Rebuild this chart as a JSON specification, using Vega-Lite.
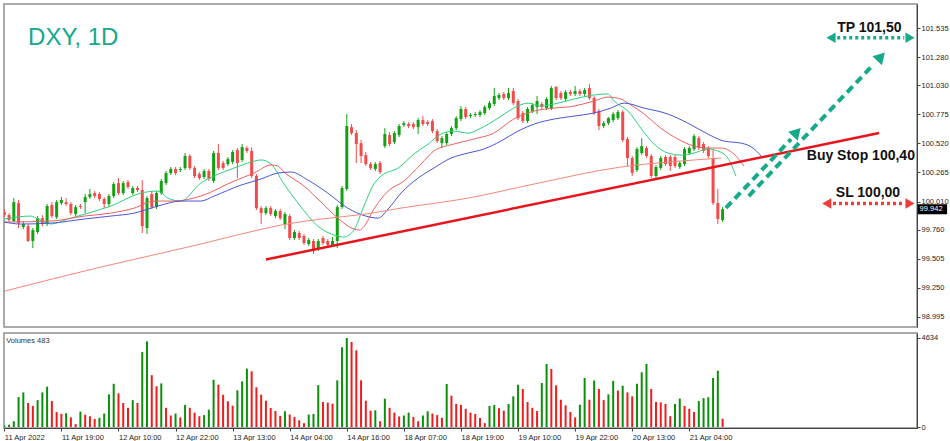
{
"$schema": "https://vega.github.io/schema/vega-lite/v6.json",
"background": "white",
"padding": {"left": 1, "top": 3, "right": 0, "bottom": 0},
"spacing": 4,
"config": {
 "view": {"stroke": "#8e8e8e", "strokeWidth": 1.5},
 "font": "Liberation Sans",
 "axis": {"labelFont": "Liberation Sans", "labelFontSize": 7.5, "labelColor": "#1e1e1e", "tickColor": "#444", "domainColor": "#444", "tickSize": 3, "grid": false, "labelPadding": 1}
},
"datasets": {
 "candles": [
{"i":0,"o":99.917,"h":99.944,"l":99.873,"c":99.891,"v":80,"vd":"u"},
{"i":1,"o":99.891,"h":99.908,"l":99.829,"c":99.847,"v":120,"vd":"u"},
{"i":2,"o":99.838,"h":100.040,"l":99.829,"c":100.005,"v":300,"vd":"u"},
{"i":3,"o":99.996,"h":100.023,"l":99.777,"c":99.820,"v":1560,"vd":"u"},
{"i":4,"o":99.785,"h":99.838,"l":99.768,"c":99.812,"v":1800,"vd":"u"},
{"i":5,"o":99.794,"h":99.812,"l":99.654,"c":99.663,"v":1250,"vd":"d"},
{"i":6,"o":99.663,"h":99.777,"l":99.601,"c":99.759,"v":1100,"vd":"d"},
{"i":7,"o":99.742,"h":99.882,"l":99.724,"c":99.864,"v":1400,"vd":"u"},
{"i":8,"o":99.864,"h":99.891,"l":99.794,"c":99.812,"v":1800,"vd":"u"},
{"i":9,"o":99.812,"h":99.988,"l":99.794,"c":99.970,"v":2100,"vd":"u"},
{"i":10,"o":99.979,"h":100.005,"l":99.864,"c":99.882,"v":1350,"vd":"d"},
{"i":11,"o":99.873,"h":100.023,"l":99.856,"c":100.005,"v":780,"vd":"d"},
{"i":12,"o":99.996,"h":100.049,"l":99.979,"c":100.023,"v":690,"vd":"d"},
{"i":13,"o":100.005,"h":100.040,"l":99.970,"c":99.988,"v":720,"vd":"u"},
{"i":14,"o":99.988,"h":100.005,"l":99.891,"c":99.908,"v":500,"vd":"d"},
{"i":15,"o":99.900,"h":99.979,"l":99.882,"c":99.961,"v":150,"vd":"d"},
{"i":16,"o":99.970,"h":99.988,"l":99.944,"c":99.961,"v":800,"vd":"u"},
{"i":17,"o":100.005,"h":100.076,"l":99.908,"c":100.049,"v":640,"vd":"d"},
{"i":18,"o":100.049,"h":100.120,"l":100.032,"c":100.076,"v":560,"vd":"d"},
{"i":19,"o":100.084,"h":100.102,"l":100.040,"c":100.058,"v":420,"vd":"d"},
{"i":20,"o":100.076,"h":100.093,"l":100.014,"c":100.032,"v":480,"vd":"u"},
{"i":21,"o":100.032,"h":100.049,"l":99.952,"c":99.988,"v":700,"vd":"u"},
{"i":22,"o":99.988,"h":100.076,"l":99.970,"c":100.058,"v":1700,"vd":"u"},
{"i":23,"o":100.058,"h":100.181,"l":100.040,"c":100.164,"v":2250,"vd":"u"},
{"i":24,"o":100.172,"h":100.216,"l":100.067,"c":100.084,"v":1750,"vd":"d"},
{"i":25,"o":100.084,"h":100.190,"l":100.067,"c":100.172,"v":1250,"vd":"d"},
{"i":26,"o":100.181,"h":100.199,"l":100.120,"c":100.137,"v":1000,"vd":"d"},
{"i":27,"o":100.084,"h":100.146,"l":100.067,"c":100.128,"v":1400,"vd":"u"},
{"i":28,"o":100.128,"h":100.146,"l":100.093,"c":100.111,"v":1250,"vd":"d"},
{"i":29,"o":100.111,"h":100.199,"l":99.733,"c":99.794,"v":3900,"vd":"u"},
{"i":30,"o":99.777,"h":100.058,"l":99.724,"c":100.040,"v":4460,"vd":"u"},
{"i":31,"o":100.076,"h":100.102,"l":99.944,"c":99.961,"v":2700,"vd":"d"},
{"i":32,"o":99.961,"h":100.102,"l":99.944,"c":100.084,"v":2120,"vd":"d"},
{"i":33,"o":100.084,"h":100.208,"l":100.067,"c":100.190,"v":2270,"vd":"u"},
{"i":34,"o":100.172,"h":100.278,"l":100.155,"c":100.260,"v":1000,"vd":"d"},
{"i":35,"o":100.260,"h":100.313,"l":100.243,"c":100.296,"v":600,"vd":"d"},
{"i":36,"o":100.296,"h":100.313,"l":100.243,"c":100.260,"v":700,"vd":"u"},
{"i":37,"o":100.287,"h":100.313,"l":100.269,"c":100.296,"v":500,"vd":"d"},
{"i":38,"o":100.304,"h":100.436,"l":100.287,"c":100.410,"v":1150,"vd":"u"},
{"i":39,"o":100.410,"h":100.427,"l":100.287,"c":100.304,"v":1000,"vd":"d"},
{"i":40,"o":100.304,"h":100.322,"l":100.216,"c":100.234,"v":750,"vd":"d"},
{"i":41,"o":100.252,"h":100.269,"l":100.199,"c":100.216,"v":560,"vd":"d"},
{"i":42,"o":100.225,"h":100.296,"l":100.208,"c":100.278,"v":620,"vd":"u"},
{"i":43,"o":100.278,"h":100.296,"l":100.190,"c":100.208,"v":900,"vd":"u"},
{"i":44,"o":100.190,"h":100.454,"l":100.172,"c":100.436,"v":2460,"vd":"u"},
{"i":45,"o":100.436,"h":100.515,"l":100.287,"c":100.304,"v":2200,"vd":"d"},
{"i":46,"o":100.348,"h":100.366,"l":100.287,"c":100.304,"v":1680,"vd":"d"},
{"i":47,"o":100.339,"h":100.401,"l":100.322,"c":100.383,"v":1340,"vd":"d"},
{"i":48,"o":100.357,"h":100.462,"l":100.339,"c":100.445,"v":1110,"vd":"d"},
{"i":49,"o":100.462,"h":100.480,"l":100.216,"c":100.348,"v":1910,"vd":"u"},
{"i":50,"o":100.375,"h":100.515,"l":100.357,"c":100.488,"v":2380,"vd":"u"},
{"i":51,"o":100.480,"h":100.497,"l":100.436,"c":100.454,"v":3040,"vd":"u"},
{"i":52,"o":100.454,"h":100.488,"l":100.216,"c":100.234,"v":2900,"vd":"d"},
{"i":53,"o":100.234,"h":100.252,"l":99.935,"c":99.952,"v":2070,"vd":"d"},
{"i":54,"o":99.952,"h":99.970,"l":99.812,"c":99.908,"v":1680,"vd":"d"},
{"i":55,"o":99.908,"h":99.970,"l":99.891,"c":99.952,"v":1370,"vd":"d"},
{"i":56,"o":99.952,"h":99.970,"l":99.882,"c":99.900,"v":990,"vd":"d"},
{"i":57,"o":99.882,"h":99.944,"l":99.864,"c":99.926,"v":830,"vd":"d"},
{"i":58,"o":99.926,"h":99.944,"l":99.847,"c":99.864,"v":580,"vd":"d"},
{"i":59,"o":99.812,"h":99.917,"l":99.768,"c":99.900,"v":820,"vd":"u"},
{"i":60,"o":99.882,"h":99.900,"l":99.672,"c":99.689,"v":650,"vd":"d"},
{"i":61,"o":99.689,"h":99.759,"l":99.672,"c":99.742,"v":520,"vd":"d"},
{"i":62,"o":99.733,"h":99.751,"l":99.672,"c":99.689,"v":350,"vd":"d"},
{"i":63,"o":99.707,"h":99.724,"l":99.628,"c":99.645,"v":200,"vd":"d"},
{"i":64,"o":99.636,"h":99.689,"l":99.619,"c":99.672,"v":650,"vd":"u"},
{"i":65,"o":99.663,"h":99.680,"l":99.548,"c":99.575,"v":680,"vd":"u"},
{"i":66,"o":99.593,"h":99.680,"l":99.575,"c":99.663,"v":2180,"vd":"u"},
{"i":67,"o":99.689,"h":99.707,"l":99.628,"c":99.645,"v":1300,"vd":"d"},
{"i":68,"o":99.663,"h":99.680,"l":99.610,"c":99.628,"v":1270,"vd":"d"},
{"i":69,"o":99.628,"h":99.698,"l":99.610,"c":99.663,"v":1220,"vd":"d"},
{"i":70,"o":99.663,"h":99.979,"l":99.601,"c":99.961,"v":2430,"vd":"u"},
{"i":71,"o":99.961,"h":100.146,"l":99.944,"c":100.128,"v":4150,"vd":"u"},
{"i":72,"o":100.120,"h":100.779,"l":100.102,"c":100.673,"v":4634,"vd":"u"},
{"i":73,"o":100.664,"h":100.691,"l":100.594,"c":100.611,"v":4430,"vd":"d"},
{"i":74,"o":100.611,"h":100.638,"l":100.348,"c":100.515,"v":3990,"vd":"d"},
{"i":75,"o":100.523,"h":100.550,"l":100.348,"c":100.410,"v":2430,"vd":"d"},
{"i":76,"o":100.418,"h":100.445,"l":100.322,"c":100.339,"v":1370,"vd":"d"},
{"i":77,"o":100.339,"h":100.357,"l":100.287,"c":100.304,"v":850,"vd":"d"},
{"i":78,"o":100.296,"h":100.357,"l":100.278,"c":100.339,"v":870,"vd":"u"},
{"i":79,"o":100.348,"h":100.366,"l":100.252,"c":100.269,"v":300,"vd":"d"},
{"i":80,"o":100.497,"h":100.655,"l":100.480,"c":100.603,"v":1475,"vd":"u"},
{"i":81,"o":100.594,"h":100.620,"l":100.497,"c":100.515,"v":1000,"vd":"d"},
{"i":82,"o":100.532,"h":100.629,"l":100.515,"c":100.611,"v":750,"vd":"d"},
{"i":83,"o":100.594,"h":100.691,"l":100.576,"c":100.673,"v":550,"vd":"d"},
{"i":84,"o":100.682,"h":100.717,"l":100.664,"c":100.699,"v":600,"vd":"u"},
{"i":85,"o":100.691,"h":100.708,"l":100.655,"c":100.673,"v":750,"vd":"u"},
{"i":86,"o":100.691,"h":100.708,"l":100.647,"c":100.664,"v":520,"vd":"d"},
{"i":87,"o":100.664,"h":100.743,"l":100.603,"c":100.726,"v":300,"vd":"d"},
{"i":88,"o":100.726,"h":100.761,"l":100.673,"c":100.691,"v":600,"vd":"u"},
{"i":89,"o":100.708,"h":100.726,"l":100.673,"c":100.691,"v":820,"vd":"u"},
{"i":90,"o":100.717,"h":100.735,"l":100.611,"c":100.629,"v":700,"vd":"d"},
{"i":91,"o":100.629,"h":100.647,"l":100.523,"c":100.541,"v":620,"vd":"d"},
{"i":92,"o":100.523,"h":100.585,"l":100.480,"c":100.567,"v":480,"vd":"d"},
{"i":93,"o":100.523,"h":100.620,"l":100.506,"c":100.603,"v":2240,"vd":"u"},
{"i":94,"o":100.603,"h":100.673,"l":100.585,"c":100.655,"v":1630,"vd":"d"},
{"i":95,"o":100.655,"h":100.761,"l":100.638,"c":100.743,"v":1200,"vd":"d"},
{"i":96,"o":100.735,"h":100.849,"l":100.717,"c":100.823,"v":1150,"vd":"d"},
{"i":97,"o":100.823,"h":100.840,"l":100.735,"c":100.752,"v":950,"vd":"d"},
{"i":98,"o":100.761,"h":100.787,"l":100.743,"c":100.770,"v":750,"vd":"d"},
{"i":99,"o":100.770,"h":100.796,"l":100.752,"c":100.779,"v":680,"vd":"d"},
{"i":100,"o":100.770,"h":100.814,"l":100.752,"c":100.796,"v":470,"vd":"d"},
{"i":101,"o":100.787,"h":100.858,"l":100.770,"c":100.840,"v":200,"vd":"d"},
{"i":102,"o":100.831,"h":100.893,"l":100.814,"c":100.875,"v":1100,"vd":"u"},
{"i":103,"o":100.867,"h":101.007,"l":100.849,"c":100.937,"v":1150,"vd":"u"},
{"i":104,"o":100.919,"h":100.963,"l":100.902,"c":100.946,"v":980,"vd":"d"},
{"i":105,"o":100.955,"h":100.972,"l":100.902,"c":100.919,"v":850,"vd":"d"},
{"i":106,"o":100.919,"h":101.007,"l":100.902,"c":100.963,"v":1200,"vd":"u"},
{"i":107,"o":100.981,"h":101.007,"l":100.858,"c":100.875,"v":1600,"vd":"u"},
{"i":108,"o":100.893,"h":100.911,"l":100.726,"c":100.743,"v":2200,"vd":"u"},
{"i":109,"o":100.787,"h":100.805,"l":100.699,"c":100.717,"v":1980,"vd":"d"},
{"i":110,"o":100.717,"h":100.840,"l":100.699,"c":100.823,"v":1300,"vd":"d"},
{"i":111,"o":100.805,"h":100.875,"l":100.787,"c":100.858,"v":1000,"vd":"d"},
{"i":112,"o":100.840,"h":100.937,"l":100.779,"c":100.893,"v":830,"vd":"d"},
{"i":113,"o":100.867,"h":100.884,"l":100.823,"c":100.840,"v":2290,"vd":"u"},
{"i":114,"o":100.831,"h":100.928,"l":100.814,"c":100.911,"v":3280,"vd":"u"},
{"i":115,"o":100.831,"h":101.025,"l":100.814,"c":101.007,"v":3020,"vd":"d"},
{"i":116,"o":101.016,"h":101.025,"l":100.902,"c":100.919,"v":2170,"vd":"d"},
{"i":117,"o":100.963,"h":100.981,"l":100.902,"c":100.919,"v":1420,"vd":"d"},
{"i":118,"o":100.911,"h":100.990,"l":100.893,"c":100.972,"v":1130,"vd":"d"},
{"i":119,"o":100.972,"h":100.990,"l":100.937,"c":100.955,"v":780,"vd":"d"},
{"i":120,"o":100.955,"h":101.025,"l":100.937,"c":100.981,"v":500,"vd":"d"},
{"i":121,"o":100.981,"h":100.999,"l":100.937,"c":100.955,"v":1160,"vd":"u"},
{"i":122,"o":100.955,"h":101.007,"l":100.937,"c":100.990,"v":2550,"vd":"u"},
{"i":123,"o":101.007,"h":101.043,"l":100.902,"c":100.919,"v":1420,"vd":"d"},
{"i":124,"o":100.919,"h":100.937,"l":100.770,"c":100.787,"v":2420,"vd":"u"},
{"i":125,"o":100.805,"h":100.823,"l":100.638,"c":100.673,"v":1980,"vd":"d"},
{"i":126,"o":100.673,"h":100.717,"l":100.655,"c":100.699,"v":1400,"vd":"d"},
{"i":127,"o":100.699,"h":100.752,"l":100.682,"c":100.743,"v":1700,"vd":"u"},
{"i":128,"o":100.726,"h":100.796,"l":100.708,"c":100.779,"v":2400,"vd":"u"},
{"i":129,"o":100.743,"h":100.814,"l":100.726,"c":100.796,"v":1900,"vd":"d"},
{"i":130,"o":100.796,"h":100.814,"l":100.532,"c":100.550,"v":2150,"vd":"u"},
{"i":131,"o":100.559,"h":100.576,"l":100.322,"c":100.392,"v":1800,"vd":"d"},
{"i":132,"o":100.392,"h":100.410,"l":100.234,"c":100.260,"v":1600,"vd":"d"},
{"i":133,"o":100.287,"h":100.488,"l":100.269,"c":100.471,"v":2250,"vd":"u"},
{"i":134,"o":100.436,"h":100.567,"l":100.418,"c":100.497,"v":2850,"vd":"u"},
{"i":135,"o":100.480,"h":100.497,"l":100.392,"c":100.410,"v":3280,"vd":"u"},
{"i":136,"o":100.410,"h":100.427,"l":100.216,"c":100.234,"v":1980,"vd":"d"},
{"i":137,"o":100.234,"h":100.331,"l":100.216,"c":100.313,"v":1300,"vd":"d"},
{"i":138,"o":100.304,"h":100.410,"l":100.287,"c":100.392,"v":1280,"vd":"d"},
{"i":139,"o":100.401,"h":100.418,"l":100.322,"c":100.339,"v":1200,"vd":"d"},
{"i":140,"o":100.401,"h":100.418,"l":100.278,"c":100.322,"v":560,"vd":"d"},
{"i":141,"o":100.401,"h":100.418,"l":100.304,"c":100.322,"v":1200,"vd":"u"},
{"i":142,"o":100.313,"h":100.366,"l":100.296,"c":100.348,"v":1480,"vd":"u"},
{"i":143,"o":100.339,"h":100.488,"l":100.322,"c":100.471,"v":1100,"vd":"d"},
{"i":144,"o":100.436,"h":100.497,"l":100.418,"c":100.480,"v":950,"vd":"d"},
{"i":145,"o":100.471,"h":100.603,"l":100.454,"c":100.585,"v":780,"vd":"d"},
{"i":146,"o":100.567,"h":100.585,"l":100.462,"c":100.480,"v":1350,"vd":"u"},
{"i":147,"o":100.515,"h":100.532,"l":100.436,"c":100.454,"v":1500,"vd":"u"},
{"i":148,"o":100.480,"h":100.497,"l":100.392,"c":100.410,"v":1550,"vd":"u"},
{"i":149,"o":100.392,"h":100.471,"l":99.979,"c":99.996,"v":2550,"vd":"u"},
{"i":150,"o":99.996,"h":100.120,"l":99.812,"c":99.856,"v":2930,"vd":"u"},
{"i":151,"o":99.847,"h":99.961,"l":99.829,"c":99.942,"v":430,"vd":"d"}
 ],
 "ma": [
{"m":"g","i":0,"p":99.856},{"m":"g","i":5.6,"p":99.882},{"m":"g","i":7.1,"p":99.856},{"m":"g","i":9.8,"p":99.812},{"m":"g","i":13.4,"p":99.856},{"m":"g","i":17.6,"p":99.908},{"m":"g","i":22.4,"p":99.970},{"m":"g","i":28.7,"p":100.084},{"m":"g","i":32.3,"p":100.102},{"m":"g","i":34.4,"p":100.040},{"m":"g","i":37.1,"p":100.014},{"m":"g","i":41.3,"p":100.172},{"m":"g","i":44.1,"p":100.234},{"m":"g","i":48.3,"p":100.304},{"m":"g","i":51.2,"p":100.348},{"m":"g","i":54.0,"p":100.375},{"m":"g","i":56.1,"p":100.339},{"m":"g","i":58.8,"p":100.164},{"m":"g","i":62.4,"p":99.961},{"m":"g","i":65.9,"p":99.794},{"m":"g","i":69.3,"p":99.716},{"m":"g","i":71.4,"p":99.698},{"m":"g","i":73.5,"p":99.759},{"m":"g","i":75.6,"p":99.970},{"m":"g","i":77.7,"p":100.164},{"m":"g","i":79.2,"p":100.234},{"m":"g","i":82.8,"p":100.304},{"m":"g","i":86.1,"p":100.427},{"m":"g","i":89.1,"p":100.515},{"m":"g","i":91.8,"p":100.603},{"m":"g","i":94.5,"p":100.629},{"m":"g","i":97.5,"p":100.611},{"m":"g","i":100.2,"p":100.655},{"m":"g","i":103.8,"p":100.743},{"m":"g","i":107.1,"p":100.831},{"m":"g","i":110.1,"p":100.875},{"m":"g","i":112.8,"p":100.849},{"m":"g","i":115.6,"p":100.867},{"m":"g","i":119.8,"p":100.911},{"m":"g","i":123.9,"p":100.946},{"m":"g","i":126.9,"p":100.955},{"m":"g","i":128.2,"p":100.893},{"m":"g","i":129.6,"p":100.849},{"m":"g","i":131.1,"p":100.805},{"m":"g","i":133.8,"p":100.655},{"m":"g","i":136.6,"p":100.515},{"m":"g","i":139.5,"p":100.436},{"m":"g","i":142.3,"p":100.418},{"m":"g","i":145.0,"p":100.436},{"m":"g","i":147.9,"p":100.471},{"m":"g","i":150.0,"p":100.454},{"m":"g","i":152.1,"p":100.392},{"m":"g","i":153.8,"p":100.234},
{"m":"r","i":0,"p":99.829},{"m":"r","i":9.8,"p":99.838},{"m":"r","i":16.8,"p":99.882},{"m":"r","i":22.4,"p":99.908},{"m":"r","i":27.3,"p":99.952},{"m":"r","i":31.5,"p":100.014},{"m":"r","i":35.7,"p":100.014},{"m":"r","i":41.3,"p":100.058},{"m":"r","i":48.3,"p":100.190},{"m":"r","i":52.5,"p":100.260},{"m":"r","i":56.1,"p":100.331},{"m":"r","i":57.5,"p":100.322},{"m":"r","i":58.8,"p":100.269},{"m":"r","i":63.0,"p":100.146},{"m":"r","i":66.6,"p":100.005},{"m":"r","i":70.1,"p":99.864},{"m":"r","i":73.5,"p":99.768},{"m":"r","i":74.6,"p":99.759},{"m":"r","i":75.6,"p":99.790},{"m":"r","i":77.7,"p":99.944},{"m":"r","i":80.7,"p":100.102},{"m":"r","i":84.0,"p":100.190},{"m":"r","i":87.6,"p":100.339},{"m":"r","i":90.3,"p":100.454},{"m":"r","i":94.5,"p":100.515},{"m":"r","i":98.7,"p":100.559},{"m":"r","i":102.9,"p":100.611},{"m":"r","i":107.1,"p":100.735},{"m":"r","i":111.4,"p":100.805},{"m":"r","i":115.6,"p":100.831},{"m":"r","i":119.8,"p":100.849},{"m":"r","i":123.9,"p":100.893},{"m":"r","i":126.9,"p":100.928},{"m":"r","i":129.6,"p":100.911},{"m":"r","i":131.1,"p":100.875},{"m":"r","i":134.5,"p":100.779},{"m":"r","i":138.0,"p":100.655},{"m":"r","i":141.6,"p":100.559},{"m":"r","i":145.0,"p":100.497},{"m":"r","i":147.9,"p":100.480},{"m":"r","i":150.7,"p":100.480},{"m":"r","i":153.4,"p":100.427},{"m":"r","i":155.5,"p":100.322},
{"m":"b","i":0,"p":99.829},{"m":"b","i":3.5,"p":99.812},{"m":"b","i":9.8,"p":99.820},{"m":"b","i":16.8,"p":99.856},{"m":"b","i":22.4,"p":99.882},{"m":"b","i":27.3,"p":99.908},{"m":"b","i":32.3,"p":99.970},{"m":"b","i":37.1,"p":100.014},{"m":"b","i":41.3,"p":100.014},{"m":"b","i":44.1,"p":100.058},{"m":"b","i":49.8,"p":100.155},{"m":"b","i":54.0,"p":100.208},{"m":"b","i":57.5,"p":100.260},{"m":"b","i":60.3,"p":100.269},{"m":"b","i":63.8,"p":100.199},{"m":"b","i":68.0,"p":100.084},{"m":"b","i":72.2,"p":99.952},{"m":"b","i":76.0,"p":99.882},{"m":"b","i":78.6,"p":99.864},{"m":"b","i":80.7,"p":99.944},{"m":"b","i":83.4,"p":100.084},{"m":"b","i":87.0,"p":100.216},{"m":"b","i":90.3,"p":100.304},{"m":"b","i":93.9,"p":100.392},{"m":"b","i":97.5,"p":100.436},{"m":"b","i":100.8,"p":100.471},{"m":"b","i":104.4,"p":100.541},{"m":"b","i":108.0,"p":100.629},{"m":"b","i":111.4,"p":100.691},{"m":"b","i":115.6,"p":100.735},{"m":"b","i":119.8,"p":100.761},{"m":"b","i":123.9,"p":100.787},{"m":"b","i":127.5,"p":100.831},{"m":"b","i":130.3,"p":100.875},{"m":"b","i":134.5,"p":100.831},{"m":"b","i":139.5,"p":100.779},{"m":"b","i":143.7,"p":100.699},{"m":"b","i":147.9,"p":100.603},{"m":"b","i":151.3,"p":100.541},{"m":"b","i":154.9,"p":100.523},{"m":"b","i":157.4,"p":100.480},{"m":"b","i":159.1,"p":100.410},
{"m":"lg","i":0.1,"p":99.223},{"m":"lg","i":20.3,"p":99.434},{"m":"lg","i":41.3,"p":99.636},{"m":"lg","i":49.8,"p":99.724},{"m":"lg","i":58.2,"p":99.803},{"m":"lg","i":66.6,"p":99.856},{"m":"lg","i":76.0,"p":99.900},{"m":"lg","i":83.4,"p":99.952},{"m":"lg","i":97.5,"p":100.040},{"m":"lg","i":111.4,"p":100.164},{"m":"lg","i":129.6,"p":100.313},{"m":"lg","i":142.3,"p":100.366},{"m":"lg","i":150.7,"p":100.392}
 ],
 "trend": [{"i":55.0,"p":99.500},{"i":183.9,"p":100.612}],
 "arrows": [
{"k":"a1","i":151.7,"p":99.953},{"k":"a1","i":165.4,"p":100.559},
{"k":"a2","i":156.5,"p":100.058},{"k":"a2","i":182.8,"p":101.218},
{"k":"tp","i":175.1,"p":101.449},{"k":"tp","i":189.2,"p":101.449},
{"k":"sl","i":174.2,"p":99.992},{"k":"sl","i":189.2,"p":99.992}
 ],
 "heads": [
{"k":"a1","s":"u","i":166.6,"p":100.620},
{"k":"a2","s":"u","i":184.3,"p":101.284},
{"k":"tp","s":"l","i":173.8,"p":101.449},{"k":"tp","s":"r","i":190.4,"p":101.449},
{"k":"sl","s":"l","i":172.9,"p":99.992},{"k":"sl","s":"r","i":190.4,"p":99.992}
 ],
 "labels": [
{"t":"TP 101,50","i":175.1,"p":101.535},
{"t":"Buy Stop 100,40","i":168.7,"p":100.414},
{"t":"SL 100,00","i":174.8,"p":100.084}
 ],
 "pricebox": [{"i":192.0,"i2":198.2,"p":99.986,"p2":99.898,"pt":99.942,"t":"99.942"}]
},
"vconcat": [
{
 "width": 913, "height": 323,
 "encoding": {"x": {"field": "i", "type": "quantitative", "scale": {"domain": [-0.063, 191.87], "nice": false, "zero": false, "padding": 0}, "axis": null}},
 "layer": [
  {"data": {"values": [{}]}, "mark": {"type": "rule", "color": "#dadada", "strokeWidth": 1},
   "encoding": {"x": {"datum": -0.063, "type": "quantitative"}, "x2": {"datum": 191.87}, "y": {"datum": 99.942, "type": "quantitative", "scale": {"domain": [98.907, 101.746], "nice": false, "zero": false},
     "axis": {"orient": "right", "values": [98.995, 99.25, 99.505, 99.76, 100.01, 100.265, 100.52, 100.775, 101.03, 101.28, 101.535], "format": ".3f", "title": null}}}},
  {"data": {"name": "candles"}, "mark": {"type": "rule", "strokeWidth": 1, "clip": true},
   "encoding": {"y": {"field": "l", "type": "quantitative", "scale": {"domain": [98.907, 101.746], "nice": false, "zero": false},
     "axis": {"orient": "right", "values": [98.995, 99.25, 99.505, 99.76, 100.01, 100.265, 100.52, 100.775, 101.03, 101.28, 101.535], "format": ".3f", "title": null}}, "y2": {"field": "h"},
    "color": {"condition": {"test": "datum.c >= datum.o", "value": "#13a013"}, "value": "#f24b4b"}}},
  {"data": {"name": "candles"}, "mark": {"type": "bar", "width": 3, "clip": true},
   "encoding": {"y": {"field": "o", "type": "quantitative", "scale": {"domain": [98.907, 101.746], "nice": false, "zero": false},
     "axis": {"orient": "right", "values": [98.995, 99.25, 99.505, 99.76, 100.01, 100.265, 100.52, 100.775, 101.03, 101.28, 101.535], "format": ".3f", "title": null}}, "y2": {"field": "c"},
    "color": {"condition": {"test": "datum.c >= datum.o", "value": "#13a013"}, "value": "#f24b4b"}}},
  {"data": {"name": "ma"}, "mark": {"type": "line", "strokeWidth": 1, "interpolate": "monotone"},
   "encoding": {"y": {"field": "p", "type": "quantitative", "scale": {"domain": [98.907, 101.746], "nice": false, "zero": false},
     "axis": {"orient": "right", "values": [98.995, 99.25, 99.505, 99.76, 100.01, 100.265, 100.52, 100.775, 101.03, 101.28, 101.535], "format": ".3f", "title": null}},
    "color": {"field": "m", "type": "nominal", "scale": {"domain": ["lg", "b", "r", "g"], "range": ["#f08878", "#4b55d6", "#ec5f5f", "#2bd07c"]}, "legend": null},
    "detail": {"field": "m"}}},
  {"data": {"name": "trend"}, "mark": {"type": "line", "color": "#e8141b", "strokeWidth": 2.5},
   "encoding": {"y": {"field": "p", "type": "quantitative", "scale": {"domain": [98.907, 101.746], "nice": false, "zero": false},
     "axis": {"orient": "right", "values": [98.995, 99.25, 99.505, 99.76, 100.01, 100.265, 100.52, 100.775, 101.03, 101.28, 101.535], "format": ".3f", "title": null}}}},
  {"data": {"name": "arrows"}, "transform": [{"filter": "datum.k == 'a1' || datum.k == 'a2'"}],
   "mark": {"type": "line", "color": "#16a98a", "strokeWidth": 4, "strokeDash": [8, 5]},
   "encoding": {"y": {"field": "p", "type": "quantitative", "scale": {"domain": [98.907, 101.746], "nice": false, "zero": false},
     "axis": {"orient": "right", "values": [98.995, 99.25, 99.505, 99.76, 100.01, 100.265, 100.52, 100.775, 101.03, 101.28, 101.535], "format": ".3f", "title": null}}, "detail": {"field": "k"}}},
  {"data": {"name": "arrows"}, "transform": [{"filter": "datum.k == 'tp'"}],
   "mark": {"type": "line", "color": "#16a98a", "strokeWidth": 3.5, "strokeDash": [3, 3]},
   "encoding": {"y": {"field": "p", "type": "quantitative", "scale": {"domain": [98.907, 101.746], "nice": false, "zero": false},
     "axis": {"orient": "right", "values": [98.995, 99.25, 99.505, 99.76, 100.01, 100.265, 100.52, 100.775, 101.03, 101.28, 101.535], "format": ".3f", "title": null}}}},
  {"data": {"name": "arrows"}, "transform": [{"filter": "datum.k == 'sl'"}],
   "mark": {"type": "line", "color": "#ef3b3b", "strokeWidth": 3.5, "strokeDash": [3, 3]},
   "encoding": {"y": {"field": "p", "type": "quantitative", "scale": {"domain": [98.907, 101.746], "nice": false, "zero": false},
     "axis": {"orient": "right", "values": [98.995, 99.25, 99.505, 99.76, 100.01, 100.265, 100.52, 100.775, 101.03, 101.28, 101.535], "format": ".3f", "title": null}}}},
  {"data": {"name": "heads"}, "transform": [{"filter": "datum.s == 'u'"}],
   "mark": {"type": "point", "shape": "triangle-up", "angle": 43, "filled": true, "size": 170, "opacity": 1, "color": "#16a98a"},
   "encoding": {"y": {"field": "p", "type": "quantitative", "scale": {"domain": [98.907, 101.746], "nice": false, "zero": false},
     "axis": {"orient": "right", "values": [98.995, 99.25, 99.505, 99.76, 100.01, 100.265, 100.52, 100.775, 101.03, 101.28, 101.535], "format": ".3f", "title": null}}}},
  {"data": {"name": "heads"}, "transform": [{"filter": "datum.s == 'l'"}],
   "mark": {"type": "point", "shape": "triangle-left", "filled": true, "size": 110, "opacity": 1},
   "encoding": {"y": {"field": "p", "type": "quantitative", "scale": {"domain": [98.907, 101.746], "nice": false, "zero": false},
     "axis": {"orient": "right", "values": [98.995, 99.25, 99.505, 99.76, 100.01, 100.265, 100.52, 100.775, 101.03, 101.28, 101.535], "format": ".3f", "title": null}},
    "color": {"condition": {"test": "datum.k == 'sl'", "value": "#ef3b3b"}, "value": "#16a98a"}}},
  {"data": {"name": "heads"}, "transform": [{"filter": "datum.s == 'r'"}],
   "mark": {"type": "point", "shape": "triangle-right", "filled": true, "size": 110, "opacity": 1},
   "encoding": {"y": {"field": "p", "type": "quantitative", "scale": {"domain": [98.907, 101.746], "nice": false, "zero": false},
     "axis": {"orient": "right", "values": [98.995, 99.25, 99.505, 99.76, 100.01, 100.265, 100.52, 100.775, 101.03, 101.28, 101.535], "format": ".3f", "title": null}},
    "color": {"condition": {"test": "datum.k == 'sl'", "value": "#ef3b3b"}, "value": "#16a98a"}}},
  {"data": {"name": "labels"}, "mark": {"type": "text", "align": "left", "baseline": "middle", "fontSize": 14, "fontWeight": "bold", "color": "#111", "font": "Liberation Sans"},
   "encoding": {"y": {"field": "p", "type": "quantitative", "scale": {"domain": [98.907, 101.746], "nice": false, "zero": false},
     "axis": {"orient": "right", "values": [98.995, 99.25, 99.505, 99.76, 100.01, 100.265, 100.52, 100.775, 101.03, 101.28, 101.535], "format": ".3f", "title": null}}, "text": {"field": "t"}}},
  {"data": {"values": [{"t": "DXY, 1D", "i": 5.0, "p": 101.385}]}, "mark": {"type": "text", "align": "left", "baseline": "alphabetic", "fontSize": 24, "color": "#14a98a", "font": "Liberation Sans"},
   "encoding": {"y": {"field": "p", "type": "quantitative", "scale": {"domain": [98.907, 101.746], "nice": false, "zero": false},
     "axis": {"orient": "right", "values": [98.995, 99.25, 99.505, 99.76, 100.01, 100.265, 100.52, 100.775, 101.03, 101.28, 101.535], "format": ".3f", "title": null}}, "text": {"field": "t"}}},
  {"data": {"name": "pricebox"}, "mark": {"type": "rect", "color": "#000"},
   "encoding": {"x2": {"field": "i2"}, "y": {"field": "p", "type": "quantitative", "scale": {"domain": [98.907, 101.746], "nice": false, "zero": false},
     "axis": {"orient": "right", "values": [98.995, 99.25, 99.505, 99.76, 100.01, 100.265, 100.52, 100.775, 101.03, 101.28, 101.535], "format": ".3f", "title": null}}, "y2": {"field": "p2"}}},
  {"data": {"name": "pricebox"}, "mark": {"type": "text", "align": "left", "baseline": "middle", "fontSize": 7.5, "color": "#fff", "dx": 2},
   "encoding": {"y": {"field": "pt", "type": "quantitative", "scale": {"domain": [98.907, 101.746], "nice": false, "zero": false},
     "axis": {"orient": "right", "values": [98.995, 99.25, 99.505, 99.76, 100.01, 100.265, 100.52, 100.775, 101.03, 101.28, 101.535], "format": ".3f", "title": null}}, "text": {"field": "t"}}}
 ]
},
{
 "width": 913, "height": 95,
 "data": {"name": "candles"},
 "encoding": {
  "x": {"field": "i", "type": "quantitative", "scale": {"domain": [-0.063, 191.87], "nice": false, "zero": false, "padding": 0},
   "axis": {"values": [0, 12, 24, 36, 48, 60, 72, 84, 96, 108, 120, 132, 144],
    "labelExpr": "['11 Apr 2022','11 Apr 19:00','12 Apr 10:00','12 Apr 22:00','13 Apr 13:00','14 Apr 04:00','14 Apr 16:00','18 Apr 07:00','18 Apr 19:00','19 Apr 10:00','19 Apr 22:00','20 Apr 13:00','21 Apr 04:00'][round(datum.value/12)]",
    "labelAlign": "left", "labelBaseline": "top", "title": null, "labelOverlap": false, "labelBound": false, "labelFlush": false, "labelPadding": 2}},
  "y": {"field": "v", "type": "quantitative", "scale": {"domain": [-52, 4894], "nice": false, "zero": false},
   "axis": {"orient": "right", "values": [0, 4634], "format": "d", "title": null}}
 },
 "layer": [
  {"mark": {"type": "bar", "width": 2, "clip": true},
   "encoding": {"color": {"condition": {"test": "datum.vd == 'u'", "value": "#0a8f0a"}, "value": "#f01c1c"}}},
  {"data": {"values": [{"i": 0.4, "v": 4478, "t": "Volumes 483"}]},
   "mark": {"type": "text", "align": "left", "baseline": "middle", "fontSize": 7.5, "color": "#333"},
   "encoding": {"text": {"field": "t"}}}
 ]
}
]
}
